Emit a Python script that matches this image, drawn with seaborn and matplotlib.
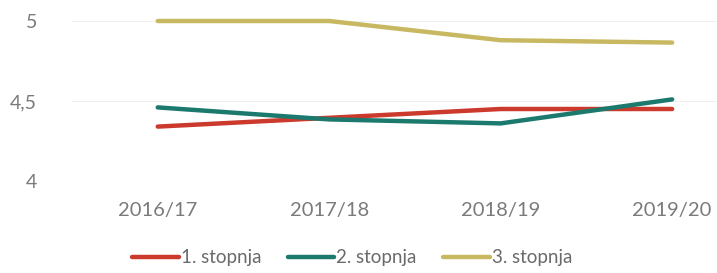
import pandas as pd
import seaborn as sns
import matplotlib.pyplot as plt

# data
years = ['2016/17', '2017/18', '2018/19', '2019/20']
stopnja_1 = [4.34, 4.395, 4.45, 4.45]
stopnja_2 = [4.46, 4.385, 4.36, 4.51]
stopnja_3 = [5.0, 5.0, 4.88, 4.865]
series_names = ['1. stopnja', '2. stopnja', '3. stopnja']
colors = ['#cc3a2e', '#1b7a6d', '#c8b862']

df = pd.DataFrame({
    'leto': years * 3,
    'vrednost': stopnja_1 + stopnja_2 + stopnja_3,
    'stopnja': [n for n in series_names for _ in years],
})

sns.set_style('white')
plt.rcParams['font.family'] = ['Lato', 'DejaVu Sans']

fig = plt.figure(figsize=(7.17, 2.73), dpi=100)
ax = fig.add_axes([72 / 717, (273 - 181) / 273, 1 - 72 / 717, 160 / 273])

sns.lineplot(data=df, x='leto', y='vrednost', hue='stopnja', palette=colors,
             linewidth=3.2, sort=False, ax=ax, legend=False)
for ln in ax.lines:
    ln.set_clip_on(False)
    ln.set_solid_capstyle('round')

ax.set_xlim(-0.5, 3 + 45 / 172)
ax.set_ylim(4, 5)
ax.set_yticks([4, 4.5, 5])
ax.set_yticklabels(['4', '4,5', '5'])
ax.grid(axis='y', color='#efefef', linewidth=0.8)
ax.tick_params(axis='both', length=0, labelcolor='#7a7a7a')
ax.tick_params(axis='x', pad=15, labelsize=14.5)
ax.tick_params(axis='y', pad=25, labelsize=14)
ax.set_xlabel('')
ax.set_ylabel('')
sns.despine(ax=ax, left=True, bottom=True)

handles = [plt.Line2D([], [], color=c, linewidth=3.2, solid_capstyle='round') for c in colors]
fig.legend(handles, series_names, loc='center', bbox_to_anchor=(352 / 717, 1 - 258 / 273),
           ncol=3, frameon=False, fontsize=13.5, handlelength=2.5, handletextpad=0.1,
           columnspacing=1.4, labelcolor='#6a6a6a')

fig.savefig('out.png', dpi=100)
